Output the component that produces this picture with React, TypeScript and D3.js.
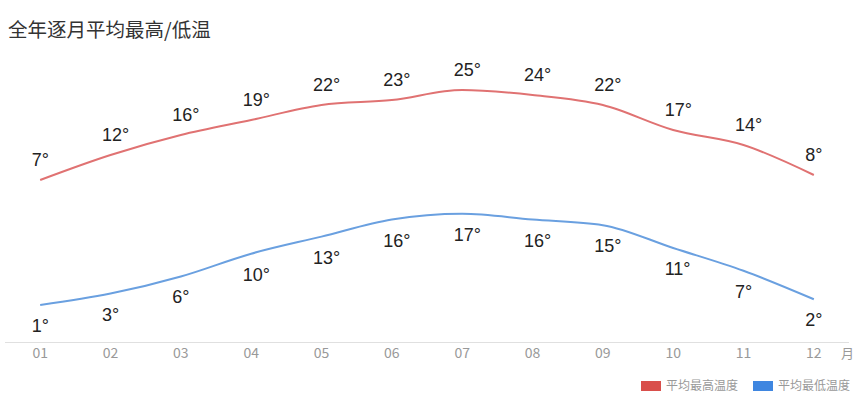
import React from "react";
import * as d3 from "d3";

const months = ["01", "02", "03", "04", "05", "06", "07", "08", "09", "10", "11", "12"];
const highTemps = [7, 12, 16, 19, 22, 23, 25, 24, 22, 17, 14, 8];
const lowTemps = [1, 3, 6, 10, 13, 16, 17, 16, 15, 11, 7, 2];
const seriesNames = ["平均最高温度", "平均最低温度"];
const title = "全年逐月平均最高/低温";
const axisName = "月";

const W = 864;
const H = 398;
const highColor = "#e07272";
const lowColor = "#6aa0e0";
const highLegend = "#d94f4b";
const lowLegend = "#3f86e0";

export default function App() {
  const x = d3.scaleBand<string>().domain(months).range([5, 849]);
  const cx = (m: string) => (x(m) as number) + x.bandwidth() / 2;
  const yHigh = d3.scaleLinear().domain([-25.4, 31]).range([342, 60]);
  const yLow = d3.scaleLinear().domain([-5.5, 44]).range([342, 60]);

  const lineHigh = d3
    .line<number>()
    .x((_, i) => cx(months[i]))
    .y((d) => yHigh(d))
    .curve(d3.curveMonotoneX);
  const lineLow = d3
    .line<number>()
    .x((_, i) => cx(months[i]))
    .y((d) => yLow(d))
    .curve(d3.curveMonotoneX);

  const labelFont = "'Liberation Sans', Arial, sans-serif";
  const cjkFont = "'Noto Sans CJK SC', 'Noto Sans', sans-serif";

  return (
    <svg
      width={W}
      height={H}
      style={{ position: "absolute", left: 0, top: 0, background: "#fff" }}
    >
      <text x={8} y={37} fontSize={19.5} fill="#333" fontFamily={cjkFont}>
        {title}
      </text>

      {/* x axis */}
      <line x1={5} x2={849} y1={342.5} y2={342.5} stroke="#e0e0e0" strokeWidth={1} />
      {months.map((m) => (
        <text
          key={m}
          x={cx(m)}
          y={358}
          textAnchor="middle"
          fontSize={14}
          fill="#999"
          fontFamily={cjkFont}
        >
          {m}
        </text>
      ))}
      <text x={841} y={358} fontSize={13} fill="#999" fontFamily={cjkFont}>
        {axisName}
      </text>

      <path d={lineHigh(highTemps) || ""} fill="none" stroke={highColor} strokeWidth={2} />
      <path d={lineLow(lowTemps) || ""} fill="none" stroke={lowColor} strokeWidth={2} />

      {highTemps.map((v, i) => (
        <text
          key={"h" + i}
          x={cx(months[i]) - 8.5}
          y={yHigh(v) - 14}
          fontSize={18}
          fill="#222"
          fontFamily={labelFont}
        >
          {v}°
        </text>
      ))}
      {lowTemps.map((v, i) => (
        <text
          key={"l" + i}
          x={cx(months[i]) - 8.5}
          y={yLow(v) + 27}
          fontSize={18}
          fill="#222"
          fontFamily={labelFont}
        >
          {v}°
        </text>
      ))}

      {/* legend */}
      <rect x={641} y={381} width={20} height={10} fill={highLegend} />
      <text x={666} y={390} fontSize={12} fill="#999" fontFamily={cjkFont}>
        {seriesNames[0]}
      </text>
      <rect x={753} y={381} width={20} height={10} fill={lowLegend} />
      <text x={778} y={390} fontSize={12} fill="#999" fontFamily={cjkFont}>
        {seriesNames[1]}
      </text>
    </svg>
  );
}
